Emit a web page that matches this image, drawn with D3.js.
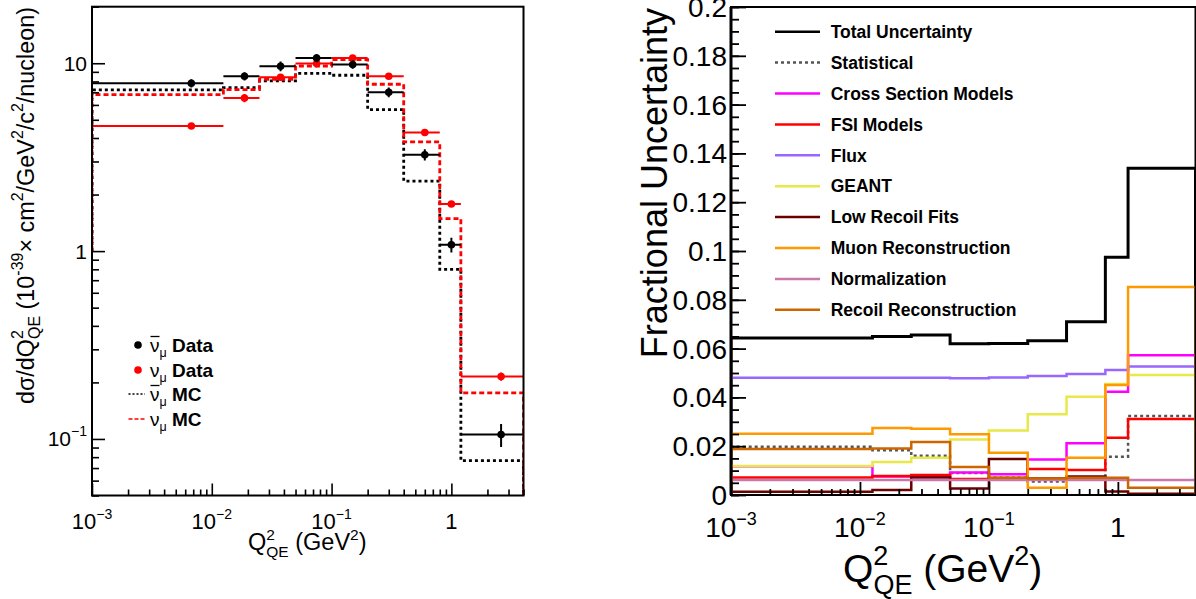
<!DOCTYPE html>
<html><head><meta charset="utf-8">
<script src="https://cdn.jsdelivr.net/npm/d3@7"></script>
<style>
body{margin:0;background:#fff}
svg{display:block;font-family:"Liberation Sans",Arial,Helvetica,sans-serif}
</style>
</head><body><svg id="c" width="1196" height="599"></svg>
<script>
// ---------------- data ----------------
const binEdges = [0.001, 0.0125, 0.025, 0.05, 0.1, 0.2, 0.4, 0.8, 1.2, 4.0];

// left panel: cross sections (10^-39 cm^2/GeV^2/c^2/nucleon)
const antiNuData = [7.82, 8.52, 9.64, 10.67, 9.84, 7.01, 3.26, 1.08, 0.1055];
const antiNuErr  = [0.05, 0.05, 0.06, 0.05, 0.05, 0.06, 0.07, 0.09, 0.14];   // relative
const nuData     = [4.63, 6.53, 8.42, 9.96, 10.67, 8.52, 4.28, 1.78, 0.215];
const nuErr      = [0.03, 0.05, 0.035, 0.035, 0.03, 0.03, 0.035, 0.03, 0.05];
const antiNuMC   = [7.21, 7.42, 8.05, 8.84, 8.63, 5.67, 2.36, 0.799, 0.0767];
const nuMC       = [6.81, 7.24, 8.22, 9.67, 10.46, 7.73, 3.81, 1.49, 0.176];

// right panel: fractional uncertainties
const totalUnc   = [0.0643, 0.0650, 0.0656, 0.0620, 0.0621, 0.0632, 0.0710, 0.0974, 0.1339];
const statUnc    = [0.0198, 0.0183, 0.0161, 0.0090, 0.0071, 0.0055, 0.0062, 0.0157, 0.0324];
const xsecUnc    = [0.0118, 0.0076, 0.0076, 0.0092, 0.0085, 0.0146, 0.0212, 0.0423, 0.0573];
const fsiUnc     = [0.0072, 0.0078, 0.0082, 0.0066, 0.0070, 0.0107, 0.0102, 0.0235, 0.0311];
const fluxUnc    = [0.0481, 0.0481, 0.0481, 0.0478, 0.0482, 0.0488, 0.0496, 0.0512, 0.0527];
const geantUnc   = [0.0119, 0.0135, 0.0153, 0.0227, 0.0264, 0.0331, 0.0403, 0.0455, 0.0492];
const lowRecUnc  = [0.0013, 0.0020, 0.0072, 0.0027, 0.0148, 0.0068, 0.0076, 0.0014, 0.0005];
const muonUnc    = [0.0251, 0.0275, 0.0272, 0.0249, 0.0173, 0.0030, 0.0153, 0.0451, 0.0852];
const normUnc    = [0.0061, 0.0061, 0.0061, 0.0061, 0.0061, 0.0061, 0.0061, 0.0061, 0.0061];
const recoilUnc  = [0.0189, 0.0191, 0.0217, 0.0115, 0.0071, 0.0068, 0.0071, 0.0071, 0.0030];

const uncNames = ["Total Uncertainty","Statistical","Cross Section Models","FSI Models","Flux",
                  "GEANT","Low Recoil Fits","Muon Reconstruction","Normalization","Recoil Reconstruction"];
const uncColors = ["#000000","#555555","#ff00ff","#ff0000","#9966ff",
                   "#e8e84a","#6b0000","#ff9900","#cc77aa","#cc6600"];
const uncSeries = [totalUnc, statUnc, xsecUnc, fsiUnc, fluxUnc, geantUnc, lowRecUnc, muonUnc, normUnc, recoilUnc];

const xMajorTicks = [0.001, 0.01, 0.1, 1];
const xTickExp = ["−3", "−2", "−1", ""];
const yLeftMajor = [0.1, 1, 10];
const yLeftExp = ["−1", "", ""];
const yLeftBase = ["10", "1", "10"];
const yRightMajor = [0, 0.02, 0.04, 0.06, 0.08, 0.1, 0.12, 0.14, 0.16, 0.18, 0.2];
const yRightLabels = ["0","0.02","0.04","0.06","0.08","0.1","0.12","0.14","0.16","0.18","0.2"];

// ---------------- setup ----------------
const svg = d3.select("#c");
const L = {x0: 92, x1: 523.5, y0: 6.7, y1: 495.5};
const R = {x0: 731, x1: 1195.5, y0: 7, y1: 495};

const xL = d3.scaleLog().domain([0.001, 4]).range([L.x0, L.x1]);
const yL = d3.scaleLog().domain([0.05, 20]).range([L.y1, L.y0]);
const xR = d3.scaleLog().domain([0.001, 4]).range([R.x0, R.x1]);
const yR = d3.scaleLinear().domain([0, 0.2]).range([R.y1, R.y0]);

const defs = svg.append("defs");
defs.append("clipPath").attr("id","clipL").append("rect")
  .attr("x",L.x0).attr("y",L.y0).attr("width",L.x1-L.x0).attr("height",L.y1-L.y0);
defs.append("clipPath").attr("id","clipR").append("rect")
  .attr("x",R.x0).attr("y",R.y0).attr("width",R.x1-R.x0).attr("height",R.y1-R.y0);

function stepPath(vals, xs, ys, startVal, endVal) {
  let p = "M" + xs(binEdges[0]) + "," + ys(startVal);
  vals.forEach((v, i) => {
    p += "L" + xs(binEdges[i]) + "," + ys(v) + "L" + xs(binEdges[i+1]) + "," + ys(v);
  });
  p += "L" + xs(binEdges[binEdges.length-1]) + "," + ys(endVal);
  return p;
}
function minorLog(lo, hi) {
  const out = [];
  for (let e = -4; e <= 2; e++) for (let m = 1; m <= 9; m++) {
    const v = m * Math.pow(10, e);
    if (v >= lo*0.9999 && v <= hi*1.0001) out.push(v);
  }
  return out;
}
function rich(sel, parts) {
  parts.forEach(p => {
    const t = sel.append("tspan").text(p.t);
    if (p.size) t.attr("font-size", p.size);
    if (p.dy) t.attr("dy", p.dy);
    if (p.dx) t.attr("dx", p.dx);
    if (p.w) t.attr("font-weight", p.w);
  });
  return sel;
}

// ================= LEFT PANEL =================
const gL = svg.append("g");
const plotL = gL.append("g").attr("clip-path","url(#clipL)");

// MC histograms
plotL.append("path").attr("d", stepPath(antiNuMC, xL, yL, 1, 0.05))
  .attr("fill","none").attr("stroke","#000").attr("stroke-width",2.8).attr("stroke-dasharray","3,3");
plotL.append("path").attr("d", stepPath(nuMC, xL, yL, 1, 0.05))
  .attr("fill","none").attr("stroke","#ff0000").attr("stroke-width",2.8).attr("stroke-dasharray","5,3");

function drawData(vals, errs, color) {
  const g = plotL.append("g");
  vals.forEach((v, i) => {
    const xc = (binEdges[i] + binEdges[i+1]) / 2;
    g.append("line").attr("x1", xL(binEdges[i])).attr("x2", xL(binEdges[i+1]))
      .attr("y1", yL(v)).attr("y2", yL(v)).attr("stroke", color).attr("stroke-width", 2);
    g.append("line").attr("x1", xL(xc)).attr("x2", xL(xc))
      .attr("y1", yL(v*(1+errs[i]))).attr("y2", yL(v*(1-errs[i]))).attr("stroke", color).attr("stroke-width", 2);
    g.append("circle").attr("cx", xL(xc)).attr("cy", yL(v)).attr("r", 3.8).attr("fill", color);
  });
}
drawData(nuData, nuErr, "#ff0000");
drawData(antiNuData, antiNuErr, "#000000");

// axes (ticks inward)
const axLbMajor = d3.axisBottom(xL).tickValues(xMajorTicks).tickSize(-12).tickFormat("");
const axLbMinor = d3.axisBottom(xL).tickValues(minorLog(0.001,4).filter(v => !xMajorTicks.includes(v))).tickSize(-6).tickFormat("");
const axLlMajor = d3.axisLeft(yL).tickValues(yLeftMajor).tickSize(-13).tickFormat("");
const axLlMinor = d3.axisLeft(yL).tickValues(minorLog(0.05,20).filter(v => !yLeftMajor.includes(v))).tickSize(-7).tickFormat("");
[[axLbMajor,"b"],[axLbMinor,"b"],[axLlMajor,"l"],[axLlMinor,"l"]].forEach(([a,s]) => {
  const g = gL.append("g").attr("transform", s==="b" ? `translate(0,${L.y1})` : `translate(${L.x0},0)`).call(a);
  g.select(".domain").remove();
  g.selectAll(".tick line").attr("stroke","#000").attr("stroke-width",1.6);
});
gL.append("rect").attr("x",L.x0).attr("y",L.y0).attr("width",L.x1-L.x0).attr("height",L.y1-L.y0)
  .attr("fill","none").attr("stroke","#000").attr("stroke-width",2);

// tick labels
xMajorTicks.forEach((v, i) => {
  const t = gL.append("text").attr("x", xL(v)).attr("y", 529).attr("text-anchor","middle").attr("font-size",22);
  if (xTickExp[i]) rich(t, [{t:"10"},{t:xTickExp[i], size:14, dy:-10}]);
  else t.text("1");
});
yLeftMajor.forEach((v, i) => {
  const t = gL.append("text").attr("x", 87).attr("y", yL(v) + 7.5).attr("text-anchor","end").attr("font-size",21);
  if (yLeftExp[i]) rich(t, [{t:yLeftBase[i]},{t:yLeftExp[i], size:14, dy:-10}]);
  else t.text(yLeftBase[i]);
});

// axis titles
const xtL = gL.append("text").attr("x", 248).attr("y", 550).attr("font-size", 23.5);
rich(xtL, [{t:"Q"},{t:"2", size:15.5, dy:-10},{t:"QE", size:15.5, dx:-8.6, dy:17},{t:" (GeV", size:23.5, dy:-7},{t:"2", size:15.5, dy:-10},{t:")", size:23.5, dy:10}]);

const ytLg = gL.append("g");
const ytL = ytLg.append("text").attr("x",0).attr("y",0).attr("text-anchor","end").attr("font-size",22);
rich(ytL, [{t:"dσ/dQ"},{t:"2", size:15, dy:-10},{t:"QE", size:15, dx:-8.3, dy:16},
  {t:"    (10", size:22, dy:-6},{t:"-39", size:15, dy:-10},{t:"× cm", size:22, dy:10},{t:"2", size:15, dy:-10},
  {t:"/GeV", size:22, dy:10},{t:"2", size:15, dy:-10},{t:"/c", size:22, dy:10},{t:"2", size:15, dy:-10},{t:"/nucleon)", size:22, dy:10}]);
// fit title to the axis extent used in the reference (from y=7 to y=413)
const ytLen = ytL.node().getComputedTextLength();
const ytK = 406 / ytLen;
ytLg.attr("transform", `translate(34,7) rotate(-90) scale(${ytK})`);

// legend
const legL = gL.append("g");
const legRows = [
  {y:345, kind:"pt", color:"#000", bar:true, label:"Data"},
  {y:370, kind:"pt", color:"#ff0000", bar:false, label:"Data"},
  {y:394, kind:"ln", color:"#000", dash:"2,2", bar:true, label:"MC"},
  {y:419, kind:"ln", color:"#ff0000", dash:"4,2", bar:false, label:"MC"}
];
legRows.forEach(r => {
  if (r.kind === "pt") legL.append("circle").attr("cx",138).attr("cy",r.y).attr("r",3.8).attr("fill",r.color);
  else legL.append("line").attr("x1",128.5).attr("x2",145).attr("y1",r.y).attr("y2",r.y)
        .attr("stroke",r.color).attr("stroke-width",1.5).attr("stroke-dasharray",r.dash);
  const t = legL.append("text").attr("x",150).attr("y",r.y+6.5).attr("font-size",19);
  rich(t, [{t:"ν"},{t:"μ", size:12.5, dy:5},{t:" " + r.label, size:19, w:"bold", dy:-5}]);
  if (r.bar) legL.append("line").attr("x1",150.5).attr("x2",159.5).attr("y1",r.y-8.5).attr("y2",r.y-8.5)
        .attr("stroke","#000").attr("stroke-width",1.3);
});

// ================= RIGHT PANEL =================
const gR = svg.append("g");
const plotR = gR.append("g").attr("clip-path","url(#clipR)");
uncSeries.forEach((s, i) => {
  plotR.append("path").attr("d", stepPath(s, xR, yR, 0, 0))
    .attr("fill","none").attr("stroke", uncColors[i])
    .attr("stroke-width", i === 0 ? 3 : 2.5)
    .attr("stroke-dasharray", i === 1 ? "3,3" : null);
});

const axRbMajor = d3.axisBottom(xR).tickValues(xMajorTicks).tickSize(-13).tickFormat("");
const axRbMinor = d3.axisBottom(xR).tickValues(minorLog(0.001,4).filter(v => !xMajorTicks.includes(v))).tickSize(-6).tickFormat("");
const axRlMajor = d3.axisLeft(yR).tickValues(yRightMajor).tickSize(-15).tickFormat("");
const axRlMinor = d3.axisLeft(yR).tickValues(d3.range(0, 0.2001, 0.005)).tickSize(-8).tickFormat("");
[[axRbMajor,"b"],[axRbMinor,"b"],[axRlMajor,"l"],[axRlMinor,"l"]].forEach(([a,s]) => {
  const g = gR.append("g").attr("transform", s==="b" ? `translate(0,${R.y1})` : `translate(${R.x0},0)`).call(a);
  g.select(".domain").remove();
  g.selectAll(".tick line").attr("stroke","#000").attr("stroke-width",1.8);
});
gR.append("rect").attr("x",R.x0).attr("y",R.y0).attr("width",R.x1-R.x0).attr("height",R.y1-R.y0)
  .attr("fill","none").attr("stroke","#000").attr("stroke-width",2);
gR.append("line").attr("x1",R.x0).attr("x2",R.x0).attr("y1",R.y0).attr("y2",R.y1)
  .attr("stroke","#000").attr("stroke-width",3);

yRightMajor.forEach((v, i) => {
  gR.append("text").attr("x", 727).attr("y", yR(v) + 10).attr("text-anchor","end")
    .attr("font-size", 28).text(yRightLabels[i]);
});
xMajorTicks.forEach((v, i) => {
  const t = gR.append("text").attr("x", xR(v)).attr("y", 537).attr("text-anchor","middle").attr("font-size",28);
  if (xTickExp[i]) rich(t, [{t:"10"},{t:xTickExp[i], size:18, dy:-12}]);
  else t.text("1");
});

const xtR = gR.append("text").attr("x", 843).attr("y", 582).attr("font-size", 39);
rich(xtR, [{t:"Q"},{t:"2", size:27, dy:-17},{t:"QE", size:27, dx:-15, dy:29},{t:" (GeV", size:39, dy:-12},{t:"2", size:27, dy:-17},{t:")", size:39, dy:17}]);

gR.append("text").attr("transform","translate(667,8) rotate(-90)").attr("text-anchor","end")
  .attr("font-size",36).text("Fractional Uncertainty");

// legend
uncNames.forEach((n, i) => {
  const y = 31.7 + i * 30.9;
  gR.append("line").attr("x1",775).attr("x2",820).attr("y1",y).attr("y2",y)
    .attr("stroke", uncColors[i]).attr("stroke-width",2.5)
    .attr("stroke-dasharray", i === 1 ? "3,3" : null);
  gR.append("text").attr("x",830.7).attr("y",y+6.2).attr("font-size",17.5).attr("font-weight","bold").text(n);
});
</script>
</body></html>
